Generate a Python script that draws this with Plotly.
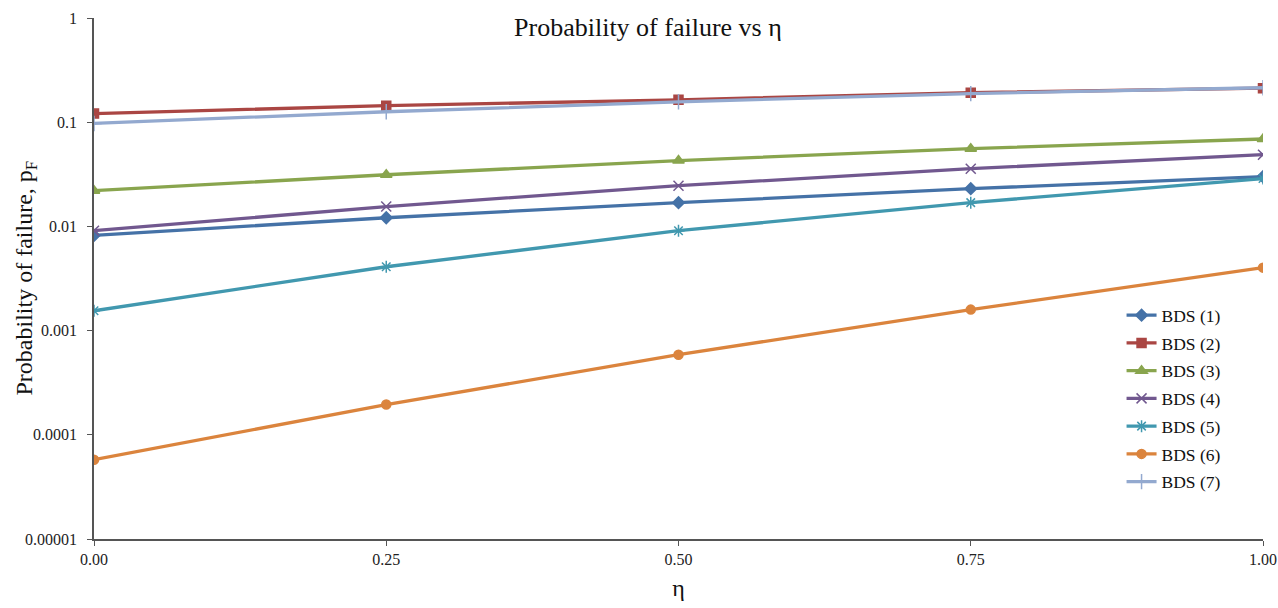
import math
import plotly.graph_objects as go

eta = [0.0, 0.25, 0.5, 0.75, 1.0]
series_names = ["BDS (1)", "BDS (2)", "BDS (3)", "BDS (4)", "BDS (5)", "BDS (6)", "BDS (7)"]
bds1 = [0.0082, 0.0121, 0.0169, 0.023, 0.030]
bds2 = [0.121, 0.144, 0.164, 0.192, 0.212]
bds3 = [0.022, 0.0313, 0.0428, 0.0557, 0.069]
bds4 = [0.0091, 0.0155, 0.0246, 0.0358, 0.0488]
bds5 = [0.00155, 0.0041, 0.0091, 0.0169, 0.0288]
bds6 = [5.77e-5, 1.95e-4, 5.87e-4, 0.00159, 0.00402]
bds7 = [0.0973, 0.126, 0.157, 0.188, 0.214]
all_series = [bds1, bds2, bds3, bds4, bds5, bds6, bds7]

y_tickvals = [1, 0.1, 0.01, 0.001, 0.0001, 0.00001]
y_ticktext = ["1", "0.1", "0.01", "0.001", "0.0001", "0.00001"]
x_tickvals = [0.0, 0.25, 0.5, 0.75, 1.0]

colors = ["#4572A7", "#AA4643", "#89A54E", "#71588F", "#4198AF", "#DB843D", "#93A9CF"]
symbols = ["diamond", "square", "triangle-up", "x-thin-open", "asterisk-open", "circle", "cross-thin-open"]
sizes = [9, 9, 10, 10, 10, 9, 11]

fig = go.Figure()
for i, (name, vals) in enumerate(zip(series_names, all_series)):
    fig.add_trace(go.Scatter(
        x=eta, y=vals, name=name, mode="lines+markers",
        legendgroup=name,
        line=dict(color=colors[i], width=3.3),
        marker=dict(symbol=symbols[i], size=sizes[i], color=colors[i],
                    line=dict(color=colors[i], width=1.5)),
    ))

font_family = "Liberation Serif, Times New Roman, serif"

annotations = [dict(
    text="Probability of failure, p<sub>F</sub>", textangle=-90,
    xref="paper", yref="paper", x=0, y=0.5, xanchor="center", yanchor="middle",
    xshift=-69, showarrow=False,
    font=dict(size=24, family=font_family, color="#111111"),
)]
for v, t in zip(y_tickvals, y_ticktext):
    annotations.append(dict(
        text=t, xref="paper", yref="y", x=0, y=math.log10(v),
        xanchor="right", yanchor="middle", xshift=-15, showarrow=False,
        font=dict(size=16, family=font_family, color="#222222"),
    ))

fig.update_layout(
    width=1278, height=608,
    margin=dict(l=94, r=15, t=18, b=69, autoexpand=False),
    paper_bgcolor="white", plot_bgcolor="white",
    font=dict(family=font_family, color="#222222", size=16),
    title=dict(text="Probability of failure vs η", x=0.507, xanchor="center",
               y=0.955, yanchor="middle", font=dict(size=26, family=font_family, color="#111111")),
    legend=dict(x=0.879, y=0.464, xanchor="left", yanchor="top",
                font=dict(size=17.5, family=font_family, color="#111111"),
                tracegroupgap=2, traceorder="grouped", bgcolor="rgba(0,0,0,0)",
                itemwidth=30),
    showlegend=True,
    annotations=annotations,
)
fig.update_xaxes(
    range=[0, 1], tickvals=x_tickvals, tickformat=".2f", automargin=False,
    showgrid=False, zeroline=False, showline=True, linecolor="#555555", linewidth=1.5,
    ticks="outside", ticklen=5, tickcolor="#555555",
    tickfont=dict(size=16, family=font_family, color="#222222"),
    title=dict(text="η", font=dict(size=24, family=font_family, color="#111111"), standoff=12),
)
fig.update_yaxes(
    type="log", range=[-5, 0], tickvals=y_tickvals, showticklabels=False,
    automargin=False,
    showgrid=False, zeroline=False, showline=True, linecolor="#555555", linewidth=1.5,
    ticks="outside", ticklen=5, tickcolor="#555555",
)
fig.write_html("out.html")
